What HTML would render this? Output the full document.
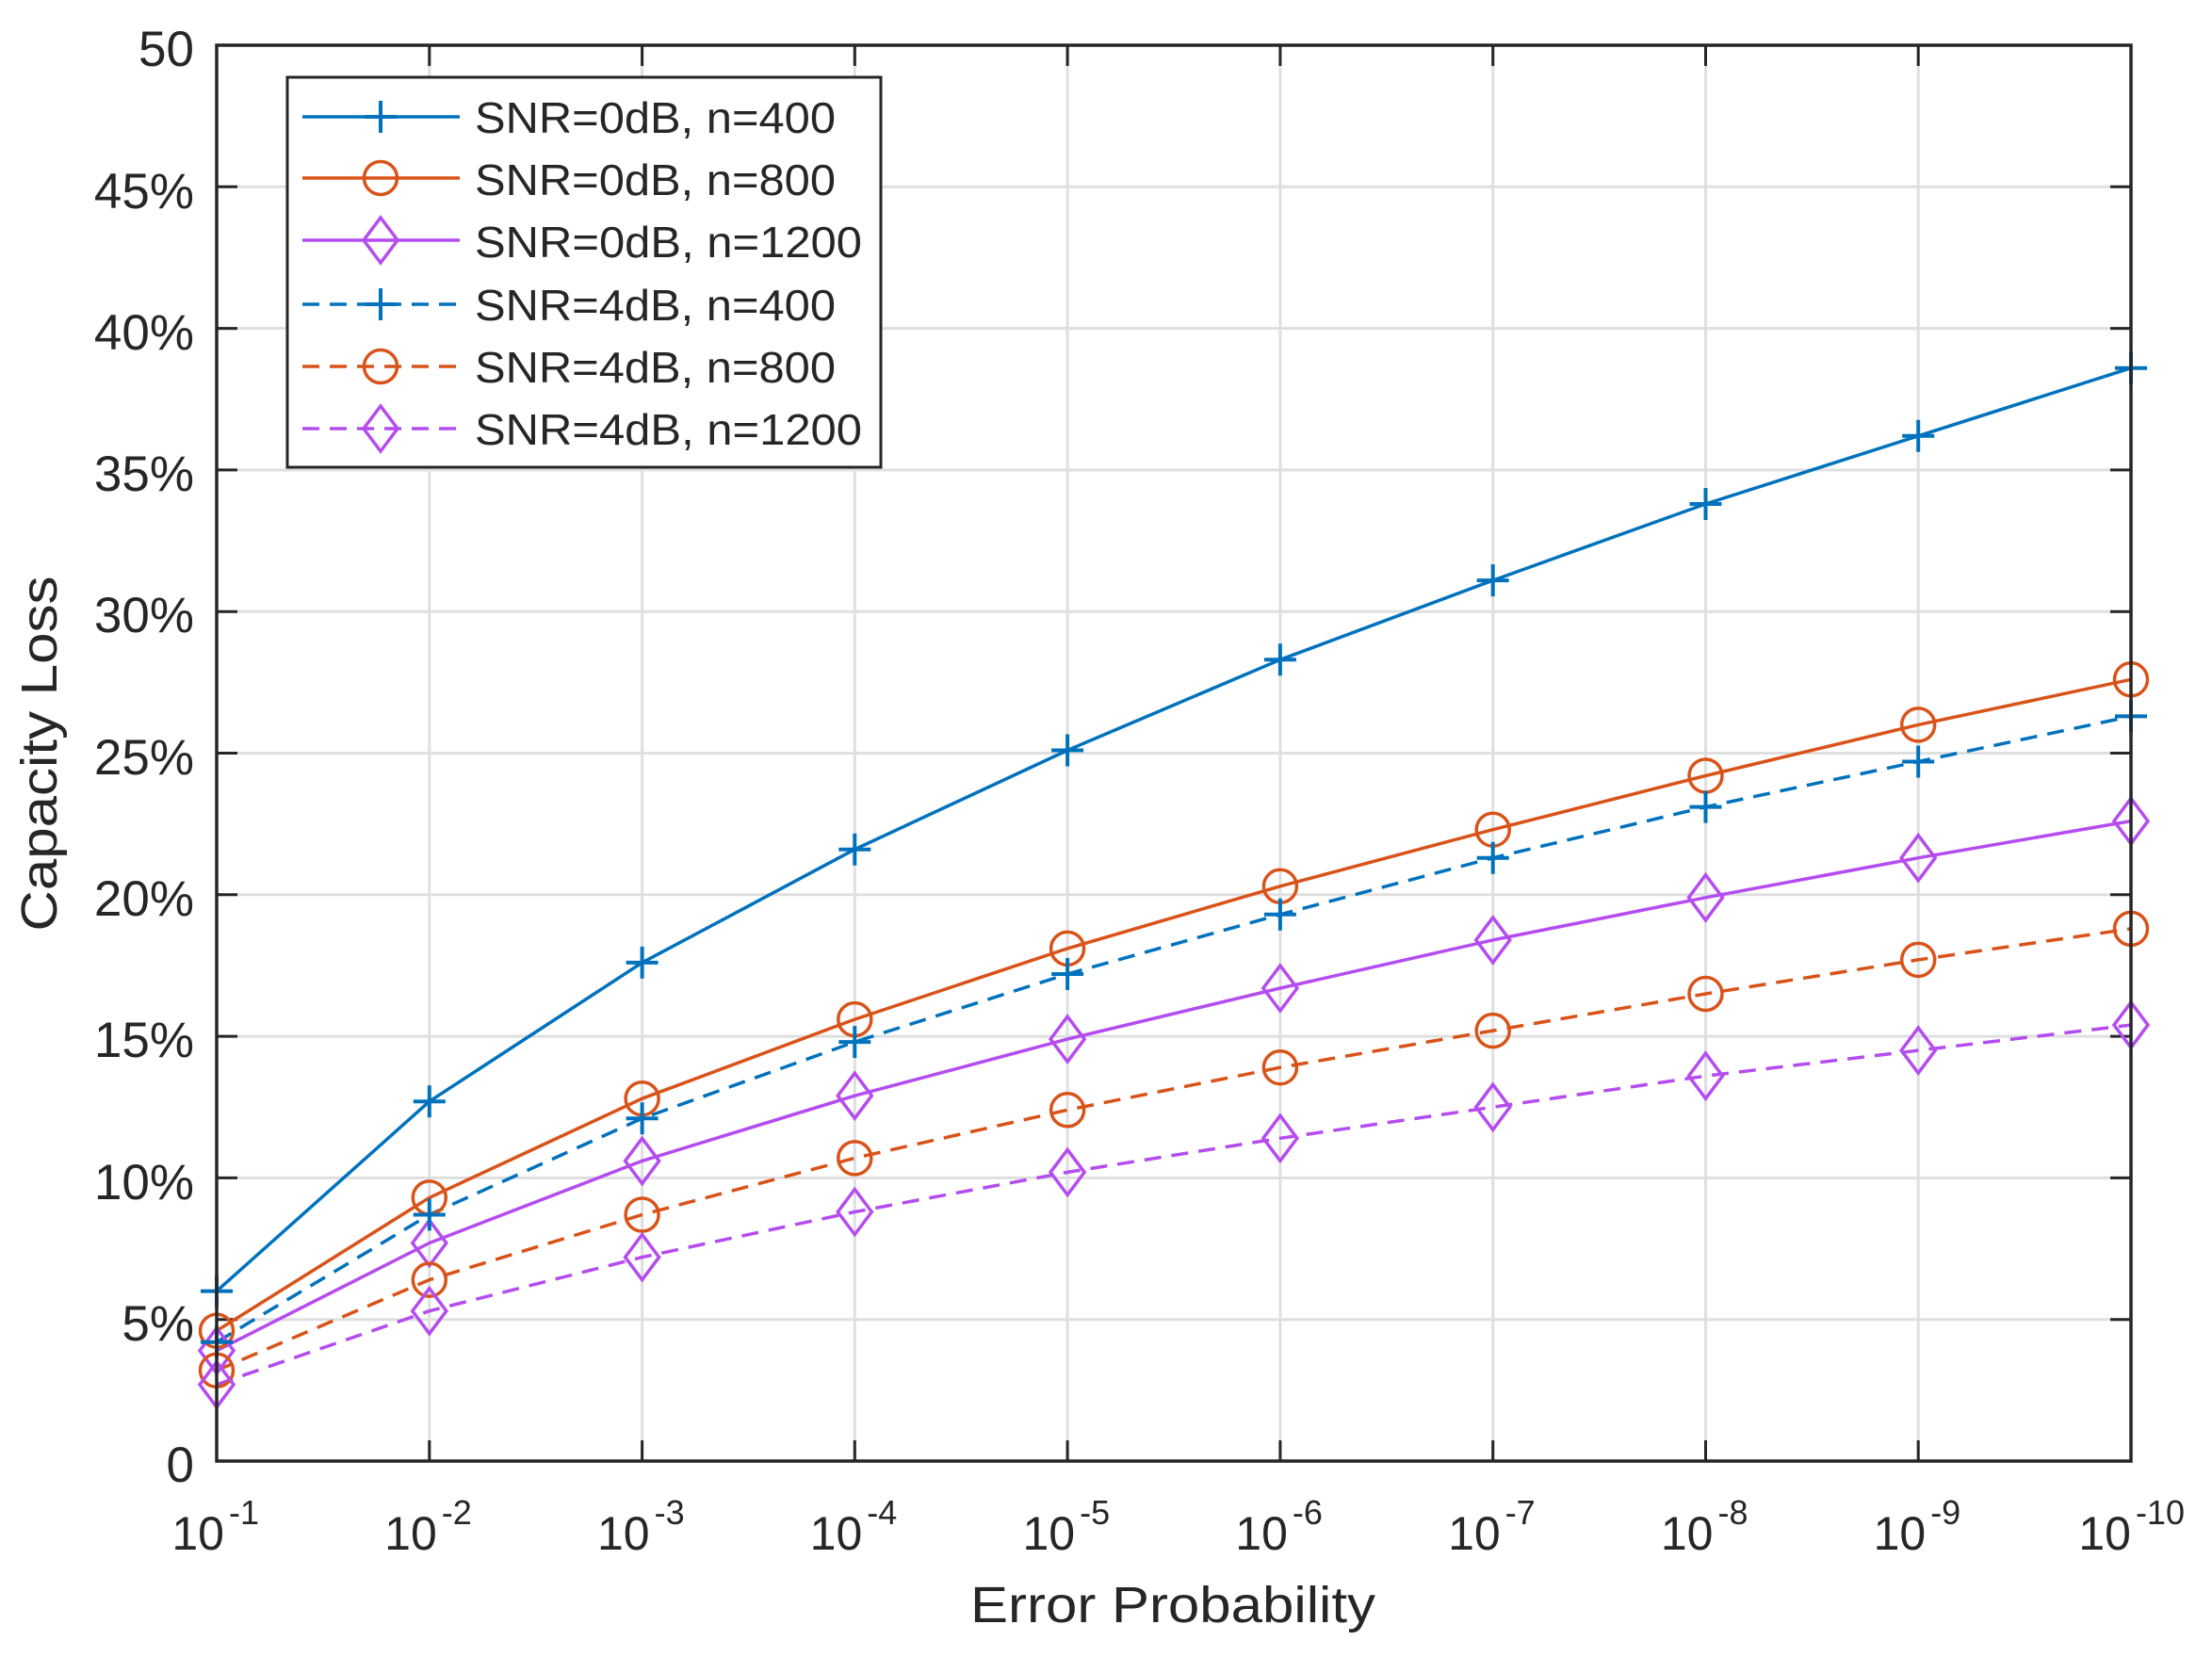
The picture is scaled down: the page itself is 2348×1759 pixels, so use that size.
<!DOCTYPE html>
<html><head><meta charset="utf-8"><style>
html,body{margin:0;padding:0;background:#fff}
svg{display:block}
text{font-family:"Liberation Sans",Arial,sans-serif;fill:#262626}
</style></head><body>
<svg width="2348" height="1759" viewBox="0 0 2348 1759" xmlns="http://www.w3.org/2000/svg">
<defs>
<g id="pB"><path d="M-17 0H17M0 -17V17" stroke="#0072BD" stroke-width="4" fill="none"/></g>
<g id="cO"><circle r="17.5" stroke="#D95319" stroke-width="3.5" fill="none"/></g>
<g id="dP"><path d="M0 -24L18 0L0 24L-18 0Z" stroke="#B44CF0" stroke-width="3.5" fill="none"/></g>
</defs>
<rect width="2348" height="1759" fill="#fff"/>
<g stroke="#dfdfdf" stroke-width="3">
<path d="M455.8 48V1551M681.6 48V1551M907.3 48V1551M1133.1 48V1551M1358.9 48V1551M1584.7 48V1551M1810.5 48V1551M2036.2 48V1551"/>
<path d="M230 1400.7H2262M230 1250.4H2262M230 1100.1H2262M230 949.8H2262M230 799.5H2262M230 649.2H2262M230 498.9H2262M230 348.6H2262M230 198.3H2262"/>
</g>
<g stroke="#262626" stroke-width="3">
<path d="M455.8 1551v-22M681.6 1551v-22M907.3 1551v-22M1133.1 1551v-22M1358.9 1551v-22M1584.7 1551v-22M1810.5 1551v-22M2036.2 1551v-22"/>
<path d="M455.8 48v22M681.6 48v22M907.3 48v22M1133.1 48v22M1358.9 48v22M1584.7 48v22M1810.5 48v22M2036.2 48v22"/>
<path d="M230 1400.7h22M230 1250.4h22M230 1100.1h22M230 949.8h22M230 799.5h22M230 649.2h22M230 498.9h22M230 348.6h22M230 198.3h22"/>
<path d="M2262 1400.7h-22M2262 1250.4h-22M2262 1100.1h-22M2262 949.8h-22M2262 799.5h-22M2262 649.2h-22M2262 498.9h-22M2262 348.6h-22M2262 198.3h-22"/>
</g>
<g fill="none" stroke-width="3.5" stroke-linejoin="round">
<polyline stroke="#0072BD" points="230,1370.6 455.8,1169.2 681.6,1021.9 907.3,901.7 1133.1,796.5 1358.9,700.3 1584.7,616.1 1810.5,535 2036.2,462.8 2262,390.7"/>
<polyline stroke="#D95319" points="230,1412.7 455.8,1271.4 681.6,1166.2 907.3,1082.1 1133.1,1006.9 1358.9,940.8 1584.7,880.7 1810.5,823.5 2036.2,769.4 2262,721.3"/>
<polyline stroke="#B44CF0" points="230,1433.8 455.8,1319.5 681.6,1232.4 907.3,1163.2 1133.1,1103.1 1358.9,1049 1584.7,997.9 1810.5,952.8 2036.2,910.7 2262,871.6"/>
<polyline stroke="#0072BD" stroke-dasharray="18,11" points="230,1424.7 455.8,1289.5 681.6,1187.3 907.3,1106.1 1133.1,1034 1358.9,970.8 1584.7,910.7 1810.5,856.6 2036.2,808.5 2262,760.4"/>
<polyline stroke="#D95319" stroke-dasharray="18,11" points="230,1454.8 455.8,1358.6 681.6,1289.5 907.3,1229.4 1133.1,1178.3 1358.9,1133.2 1584.7,1094.1 1810.5,1055 2036.2,1018.9 2262,985.9"/>
<polyline stroke="#B44CF0" stroke-dasharray="18,11" points="230,1469.8 455.8,1391.7 681.6,1334.6 907.3,1286.5 1133.1,1244.4 1358.9,1208.3 1584.7,1175.3 1810.5,1142.2 2036.2,1115.1 2262,1088.1"/>
</g>
<use href="#pB" x="230" y="1370.6"/><use href="#pB" x="455.8" y="1169.2"/><use href="#pB" x="681.6" y="1021.9"/><use href="#pB" x="907.3" y="901.7"/><use href="#pB" x="1133.1" y="796.5"/><use href="#pB" x="1358.9" y="700.3"/><use href="#pB" x="1584.7" y="616.1"/><use href="#pB" x="1810.5" y="535"/><use href="#pB" x="2036.2" y="462.8"/><use href="#pB" x="2262" y="390.7"/>
<use href="#cO" x="230" y="1412.7"/><use href="#cO" x="455.8" y="1271.4"/><use href="#cO" x="681.6" y="1166.2"/><use href="#cO" x="907.3" y="1082.1"/><use href="#cO" x="1133.1" y="1006.9"/><use href="#cO" x="1358.9" y="940.8"/><use href="#cO" x="1584.7" y="880.7"/><use href="#cO" x="1810.5" y="823.5"/><use href="#cO" x="2036.2" y="769.4"/><use href="#cO" x="2262" y="721.3"/>
<use href="#dP" x="230" y="1433.8"/><use href="#dP" x="455.8" y="1319.5"/><use href="#dP" x="681.6" y="1232.4"/><use href="#dP" x="907.3" y="1163.2"/><use href="#dP" x="1133.1" y="1103.1"/><use href="#dP" x="1358.9" y="1049"/><use href="#dP" x="1584.7" y="997.9"/><use href="#dP" x="1810.5" y="952.8"/><use href="#dP" x="2036.2" y="910.7"/><use href="#dP" x="2262" y="871.6"/>
<use href="#pB" x="230" y="1424.7"/><use href="#pB" x="455.8" y="1289.5"/><use href="#pB" x="681.6" y="1187.3"/><use href="#pB" x="907.3" y="1106.1"/><use href="#pB" x="1133.1" y="1034"/><use href="#pB" x="1358.9" y="970.8"/><use href="#pB" x="1584.7" y="910.7"/><use href="#pB" x="1810.5" y="856.6"/><use href="#pB" x="2036.2" y="808.5"/><use href="#pB" x="2262" y="760.4"/>
<use href="#cO" x="230" y="1454.8"/><use href="#cO" x="455.8" y="1358.6"/><use href="#cO" x="681.6" y="1289.5"/><use href="#cO" x="907.3" y="1229.4"/><use href="#cO" x="1133.1" y="1178.3"/><use href="#cO" x="1358.9" y="1133.2"/><use href="#cO" x="1584.7" y="1094.1"/><use href="#cO" x="1810.5" y="1055"/><use href="#cO" x="2036.2" y="1018.9"/><use href="#cO" x="2262" y="985.9"/>
<use href="#dP" x="230" y="1469.8"/><use href="#dP" x="455.8" y="1391.7"/><use href="#dP" x="681.6" y="1334.6"/><use href="#dP" x="907.3" y="1286.5"/><use href="#dP" x="1133.1" y="1244.4"/><use href="#dP" x="1358.9" y="1208.3"/><use href="#dP" x="1584.7" y="1175.3"/><use href="#dP" x="1810.5" y="1142.2"/><use href="#dP" x="2036.2" y="1115.1"/><use href="#dP" x="2262" y="1088.1"/>
<rect x="230" y="48" width="2032" height="1503" fill="none" stroke="#262626" stroke-width="3.5"/>
<g font-size="53" text-anchor="end">
<text x="206" y="1573">0</text>
<text x="206" y="1423">5%</text>
<text x="206" y="1273">10%</text>
<text x="206" y="1122">15%</text>
<text x="206" y="972">20%</text>
<text x="206" y="822">25%</text>
<text x="206" y="671">30%</text>
<text x="206" y="521">35%</text>
<text x="206" y="371">40%</text>
<text x="206" y="221">45%</text>
<text x="206" y="70">50</text>
</g>
<g font-size="50">
<text x="238" y="1645" text-anchor="end">10</text><text x="243" y="1618" font-size="36">-1</text>
<text x="463.8" y="1645" text-anchor="end">10</text><text x="468.8" y="1618" font-size="36">-2</text>
<text x="689.6" y="1645" text-anchor="end">10</text><text x="694.6" y="1618" font-size="36">-3</text>
<text x="915.3" y="1645" text-anchor="end">10</text><text x="920.3" y="1618" font-size="36">-4</text>
<text x="1141.1" y="1645" text-anchor="end">10</text><text x="1146.1" y="1618" font-size="36">-5</text>
<text x="1366.9" y="1645" text-anchor="end">10</text><text x="1371.9" y="1618" font-size="36">-6</text>
<text x="1592.7" y="1645" text-anchor="end">10</text><text x="1597.7" y="1618" font-size="36">-7</text>
<text x="1818.5" y="1645" text-anchor="end">10</text><text x="1823.5" y="1618" font-size="36">-8</text>
<text x="2044.2" y="1645" text-anchor="end">10</text><text x="2049.2" y="1618" font-size="36">-9</text>
<text x="2262" y="1645" text-anchor="end">10</text><text x="2267" y="1618" font-size="36">-10</text>
</g>
<text x="1245" y="1722" font-size="54" text-anchor="middle" textLength="430" lengthAdjust="spacingAndGlyphs">Error Probability</text>
<text transform="translate(60,800) rotate(-90)" font-size="54" text-anchor="middle" textLength="377" lengthAdjust="spacingAndGlyphs">Capacity Loss</text>
<rect x="305" y="82" width="630" height="414" fill="#fff" stroke="#262626" stroke-width="3"/>
<g fill="none" stroke-width="3.5">
<path d="M321 124H488" stroke="#0072BD"/>
<path d="M321 189H488" stroke="#D95319"/>
<path d="M321 255H488" stroke="#B44CF0"/>
<path d="M321 323H488" stroke="#0072BD" stroke-dasharray="18,11"/>
<path d="M321 389H488" stroke="#D95319" stroke-dasharray="18,11"/>
<path d="M321 455H488" stroke="#B44CF0" stroke-dasharray="18,11"/>
</g>
<use href="#pB" x="404" y="124"/><use href="#cO" x="404" y="189"/><use href="#dP" x="404" y="255"/>
<use href="#pB" x="404" y="323"/><use href="#cO" x="404" y="389"/><use href="#dP" x="404" y="455"/>
<g font-size="46">
<text x="504" y="141" textLength="383" lengthAdjust="spacingAndGlyphs">SNR=0dB, n=400</text>
<text x="504" y="207" textLength="383" lengthAdjust="spacingAndGlyphs">SNR=0dB, n=800</text>
<text x="504" y="273" textLength="411" lengthAdjust="spacingAndGlyphs">SNR=0dB, n=1200</text>
<text x="504" y="340" textLength="383" lengthAdjust="spacingAndGlyphs">SNR=4dB, n=400</text>
<text x="504" y="406" textLength="383" lengthAdjust="spacingAndGlyphs">SNR=4dB, n=800</text>
<text x="504" y="472" textLength="411" lengthAdjust="spacingAndGlyphs">SNR=4dB, n=1200</text>
</g>
</svg>
</body></html>
